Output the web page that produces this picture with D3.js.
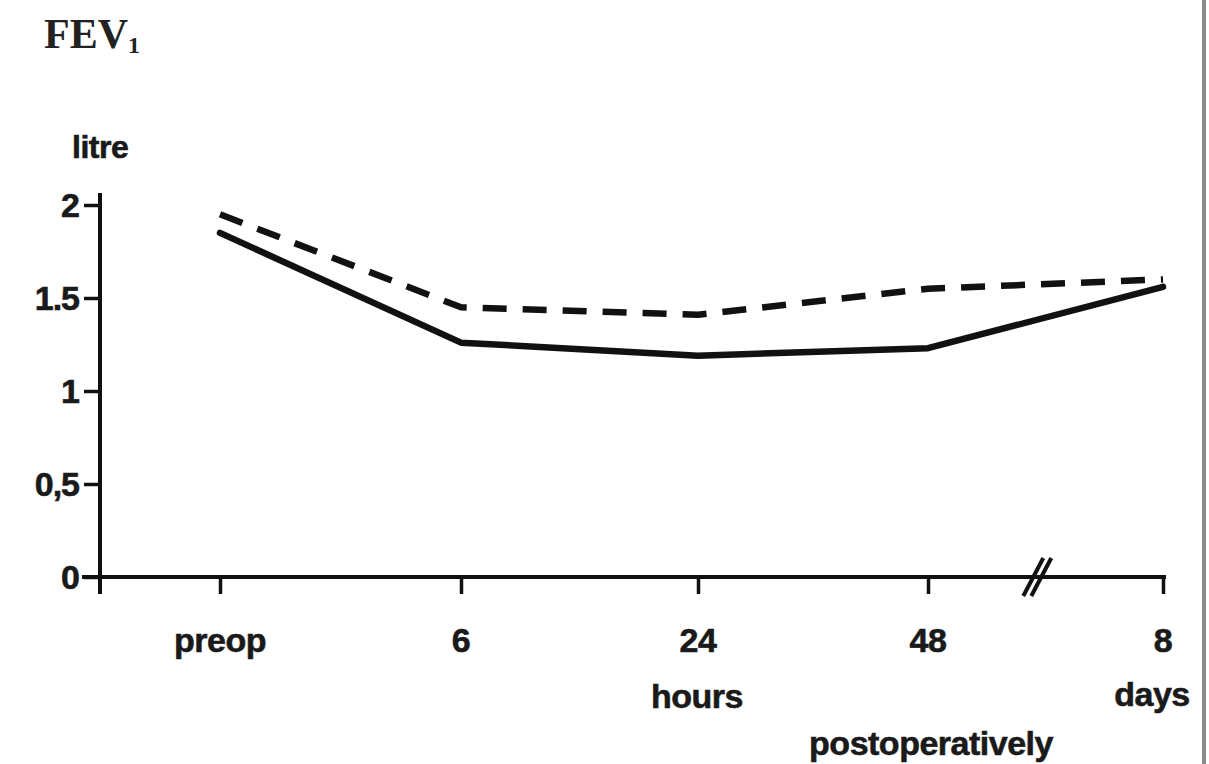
<!DOCTYPE html>
<html>
<head>
<meta charset="utf-8">
<script src="https://cdn.jsdelivr.net/npm/d3@7"></script>
<style>
  html, body { margin: 0; padding: 0; background: #fff; }
  svg { display: block; }
  .lbl { font-family: "Liberation Sans", Arial, sans-serif; font-weight: bold; fill: #1a1a1a; stroke: #1a1a1a; stroke-width: 0.6px; }
</style>
</head>
<body>
<svg id="chart" width="1209" height="764"></svg>
<script>
// ---- data ----
const categories = ["preop", "6", "24", "48", "8"];
const solidValues = [1.85, 1.26, 1.19, 1.23, 1.56];
const dashedValues = [1.95, 1.45, 1.41, 1.55, 1.60];
const yTicks = [0, 0.5, 1, 1.5, 2];
const yTickLabels = ["0", "0,5", "1", "1.5", "2"];

const svg = d3.select("#chart");
const ink = "#111";
const fs = 34;

const x = d3.scaleOrdinal().domain(categories).range([220, 461, 698, 928, 1163]);
const y = d3.scaleLinear().domain([0, 2]).range([577, 205]);

// right border of the scanned figure
svg.append("rect").attr("x", 1202).attr("y", 0).attr("width", 4).attr("height", 764).attr("fill", "#8a8a8a");

// y axis
const yAxis = d3.axisLeft(y).tickValues(yTicks).tickSize(16).tickFormat(() => "");
const gy = svg.append("g").attr("transform", "translate(100,0)").call(yAxis);
gy.select(".domain").remove();
gy.selectAll(".tick line").attr("stroke", ink).attr("stroke-width", 3.5);
svg.append("line").attr("x1", 100).attr("x2", 100).attr("y1", y(2) - 12).attr("y2", y(0) + 17)
  .attr("stroke", ink).attr("stroke-width", 4);

yTicks.forEach((t, i) => {
  svg.append("text").attr("class", "lbl").attr("x", 79).attr("y", y(t) + 12)
    .attr("text-anchor", "end").attr("font-size", fs).attr("letter-spacing", -1)
    .text(yTickLabels[i]);
});

// x axis
svg.append("line").attr("x1", 82).attr("x2", x("8") + 3).attr("y1", y(0)).attr("y2", y(0))
  .attr("stroke", ink).attr("stroke-width", 4);
const xAxis = d3.axisBottom(x).tickSize(17).tickFormat(() => "");
const gx = svg.append("g").attr("transform", `translate(0,${y(0)})`).call(xAxis);
gx.select(".domain").remove();
gx.selectAll(".tick line").attr("stroke", ink).attr("stroke-width", 3.5);

categories.forEach(c => {
  svg.append("text").attr("class", "lbl").attr("x", x(c)).attr("y", 652)
    .attr("text-anchor", "middle").attr("font-size", fs).attr("letter-spacing", -0.5).text(c);
});

// axis break "//"
const bx = x("48") + (x("8") - x("48")) * 0.465;
[-4, 4].forEach(dx => {
  svg.append("line")
    .attr("x1", bx + dx + 10).attr("y1", y(0) - 19)
    .attr("x2", bx + dx - 10).attr("y2", y(0) + 19)
    .attr("stroke", ink).attr("stroke-width", 4);
});

// unit labels
svg.append("text").attr("class", "lbl").attr("x", 697).attr("y", 708)
  .attr("text-anchor", "middle").attr("font-size", fs).attr("letter-spacing", -0.5).text("hours");
svg.append("text").attr("class", "lbl").attr("x", 1152).attr("y", 706)
  .attr("text-anchor", "middle").attr("font-size", fs).attr("letter-spacing", -0.5).text("days");
svg.append("text").attr("class", "lbl").attr("x", 931).attr("y", 755)
  .attr("text-anchor", "middle").attr("font-size", fs).attr("letter-spacing", -0.5).text("postoperatively");

// y title
const fev = svg.append("text").attr("x", 44).attr("y", 48)
  .attr("font-family", "'Liberation Serif', 'Times New Roman', serif").attr("font-weight", "bold")
  .attr("font-size", 42).attr("fill", "#222");
fev.append("tspan").text("FEV");
fev.append("tspan").attr("font-size", 24).attr("dy", 5).text("1");
svg.append("text").attr("class", "lbl").attr("x", 72).attr("y", 158)
  .attr("font-size", 32).attr("letter-spacing", -0.5).text("litre");

// series
const line = d3.line().x((d, i) => x(categories[i])).y(d => y(d));
svg.append("path").datum(solidValues).attr("d", line)
  .attr("fill", "none").attr("stroke", ink).attr("stroke-width", 6.5)
  .attr("stroke-linejoin", "round").attr("stroke-linecap", "round");
svg.append("path").datum(dashedValues).attr("d", line)
  .attr("fill", "none").attr("stroke", ink).attr("stroke-width", 6.5)
  .attr("stroke-dasharray", "24,16").attr("stroke-linejoin", "round");
</script>
</body>
</html>
